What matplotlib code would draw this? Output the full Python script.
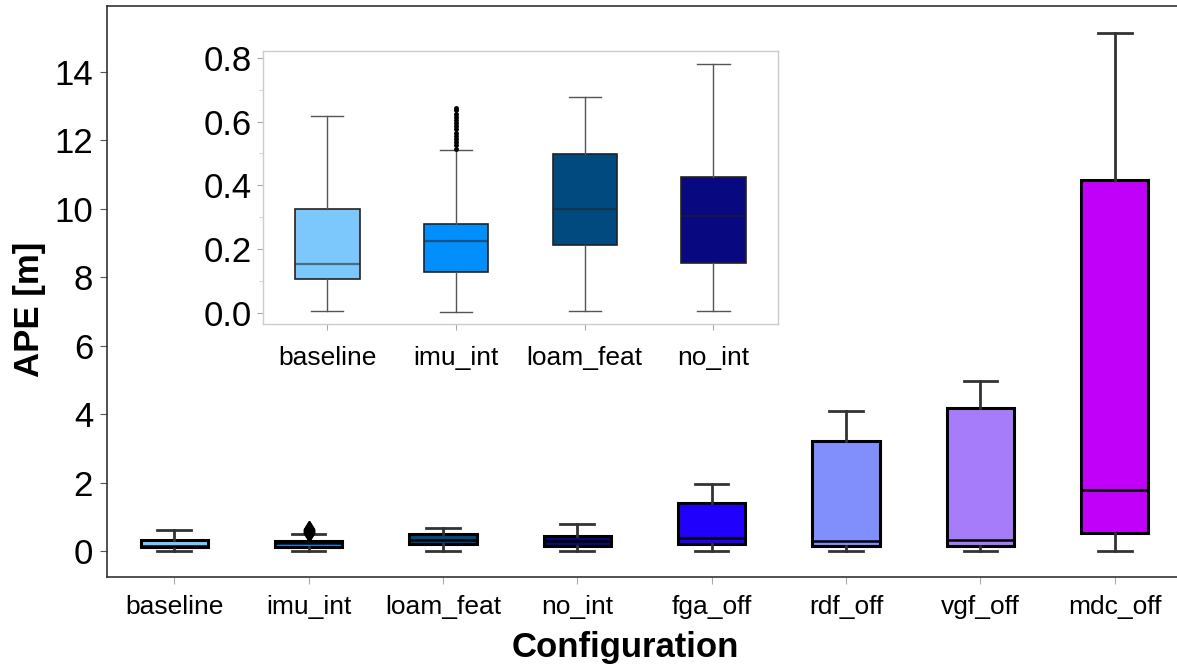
import matplotlib
matplotlib.use("Agg")
import matplotlib.pyplot as plt
from matplotlib.ticker import MultipleLocator

plt.rcParams['font.family'] = ['Liberation Sans', 'DejaVu Sans']

# --- data --------------------------------------------------------------------

configs = ["baseline", "imu_int", "loam_feat", "no_int",
           "fga_off", "rdf_off", "vgf_off", "mdc_off"]
colors = ["#7cc8fc", "#008ffc", "#004a80", "#080880",
          "#2000fc", "#808ffc", "#a67cfa", "#c000f8"]

whislo = [0.005, 0.002, 0.005, 0.005, 0.0, 0.0, 0.0, 0.0]
q1 = [0.106, 0.128, 0.214, 0.155, 0.20, 0.15, 0.15, 0.54]
med = [0.152, 0.225, 0.327, 0.304, 0.37, 0.29, 0.32, 1.78]
q3 = [0.327, 0.280, 0.497, 0.425, 1.39, 3.23, 4.19, 10.85]
whishi = [0.617, 0.511, 0.676, 0.780, 1.96, 4.09, 4.98, 15.15]

# imu_int outliers (dense stack above its whisker)
imu_fliers = [0.515, 0.525, 0.535, 0.545, 0.555, 0.565, 0.575, 0.585,
              0.595, 0.605, 0.615, 0.625, 0.635, 0.643]

main_ticks = [0, 2, 4, 6, 8, 10, 12, 14]
inset_ticks = [0.0, 0.2, 0.4, 0.6, 0.8]


def make_stats(n):
    stats = []
    for i in range(n):
        stats.append(dict(label=configs[i], whislo=whislo[i], q1=q1[i],
                          med=med[i], q3=q3[i], whishi=whishi[i],
                          fliers=imu_fliers if configs[i] == "imu_int" else []))
    return stats


# --- figure ------------------------------------------------------------------

fig = plt.figure(figsize=(11.77, 6.69), dpi=100)
ax = fig.add_axes([0.0909, 0.1375, 0.9133, 0.8535])

bp = ax.bxp(make_stats(8), positions=range(8), widths=0.5, patch_artist=True,
            boxprops=dict(edgecolor="black", linewidth=2.2),
            medianprops=dict(color="black", linewidth=1.8),
            whiskerprops=dict(color="#333333", linewidth=2.0),
            capprops=dict(color="#333333", linewidth=2.0),
            capwidths=0.25,
            flierprops=dict(marker="d", markerfacecolor="black",
                            markeredgecolor="black", markersize=8))
for patch, c in zip(bp["boxes"], colors):
    patch.set_facecolor(c)

ax.set_xlim(-0.5, 7.5)
ax.set_ylim(-0.76, 15.93)
ax.set_yticks(main_ticks)
ax.set_xticks(range(8))
ax.set_xticklabels(configs, fontsize=19)
ax.tick_params(axis="y", labelsize=25, length=5, color="#555555", pad=5)
ax.tick_params(axis="x", length=5, color="#aaaaaa", pad=8)
for s in ax.spines.values():
    s.set_color("#333333")
    s.set_linewidth(1.2)

ax.set_xlabel("Configuration", fontsize=25, fontweight="bold")
ax.xaxis.set_label_coords(0.482, -0.123)
ax.xaxis.label.set_va("center")
ax.set_ylabel("APE [m]", fontsize=25, fontweight="bold")
ax.yaxis.set_label_coords(-0.072, 0.469)
ax.yaxis.label.set_va("center")

# --- inset -------------------------------------------------------------------

ins = fig.add_axes([0.2235, 0.5157, 0.4373, 0.4085])
bi = ins.bxp(make_stats(4), positions=range(4), widths=0.5, patch_artist=True,
             boxprops=dict(edgecolor="#222222", linewidth=1.2),
             medianprops=dict(color="#222222", linewidth=1.6, alpha=0.55),
             whiskerprops=dict(color="#555555", linewidth=1.0),
             capprops=dict(color="#555555", linewidth=1.0),
             capwidths=0.25,
             flierprops=dict(marker="o", markerfacecolor="black",
                             markeredgecolor="black", markersize=2.5))
for patch, c in zip(bi["boxes"], colors[:4]):
    patch.set_facecolor(c)

ins.set_xlim(-0.5, 3.5)
ins.set_ylim(-0.035, 0.822)
ins.set_yticks(inset_ticks)
ins.set_yticklabels([f"{t:.1f}" for t in inset_ticks])
ins.yaxis.set_minor_locator(MultipleLocator(0.1))
ins.set_xticks(range(4))
ins.set_xticklabels(configs[:4], fontsize=19)
ins.tick_params(axis="y", which="major", labelsize=25, length=4,
                color="#aaaaaa", pad=4)
ins.tick_params(axis="y", which="minor", length=3, color="#cccccc")
ins.tick_params(axis="x", length=4, color="#aaaaaa", pad=12)
for s in ins.spines.values():
    s.set_color("#cccccc")
    s.set_linewidth(1.0)

fig.savefig("out.png", dpi=100)
